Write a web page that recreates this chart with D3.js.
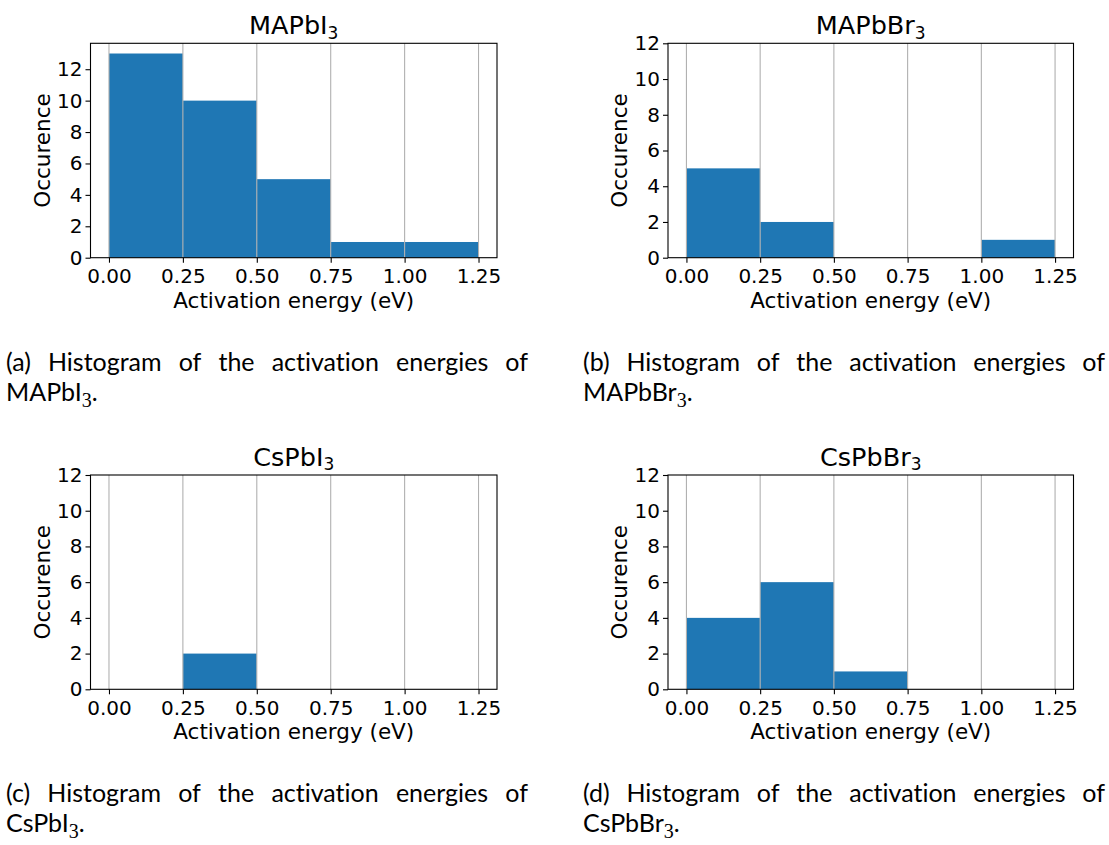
<!DOCTYPE html>
<meta charset="utf-8">
<style>
    body { margin: 0; background: #fff; }
    svg { display: block; }
    .axis path, .axis line { stroke: #000; stroke-width: 1.1px; }
    .grid line { stroke: #b0b0b0; stroke-width: 1.1px; }
    .caption { font-family: Lato, "Open Sans", sans-serif; font-size: 25px; fill: #000; font-variant-ligatures: none; }
</style>
<svg width="1109" height="845"></svg>
<script src="https://cdn.jsdelivr.net/npm/d3@7"></script>
<script>
    // histogram data, one array per compound
    const binEdges = [0, 0.25, 0.5, 0.75, 1.0, 1.25];
    const countsMAPbI3 = [13, 10, 5, 1, 1];
    const countsMAPbBr3 = [5, 2, 0, 0, 1];
    const countsCsPbI3 = [0, 2, 0, 0, 0];
    const countsCsPbBr3 = [4, 6, 1, 0, 0];

    const xTicks = [0, 0.25, 0.5, 0.75, 1.0, 1.25];
    const yTicks = [0, 2, 4, 6, 8, 10, 12];
    const xLabel = "Activation energy (eV)";
    const yLabel = "Occurence";

    const titleBase = ["MAPbI", "MAPbBr", "CsPbI", "CsPbBr"];
    const captionLetters = ["(a)", "(b)", "(c)", "(d)"];
    const captionText = "Histogram of the activation energies of";

    const svg = d3.select("svg");
    svg.append("rect").attr("width", 1109).attr("height", 845).attr("fill", "#fff");

    const panels = [
        { counts: countsMAPbI3, left: 90.5, top: 43.3, width: 406.5, height: 214.4, ymax: 13 * 1.05,
          cap: { x0: 6, x1: 528, y: 371 } },
        { counts: countsMAPbBr3, left: 668, top: 43.3, width: 405.5, height: 214.4, ymax: 12,
          cap: { x0: 583, x1: 1105, y: 371 } },
        { counts: countsCsPbI3, left: 90.5, top: 475, width: 406.5, height: 214.3, ymax: 12,
          cap: { x0: 6, x1: 528, y: 802 } },
        { counts: countsCsPbBr3, left: 668, top: 475, width: 405.5, height: 214.3, ymax: 12,
          cap: { x0: 583, x1: 1105, y: 802 } }
    ];

    const tickFont = "20px 'DejaVu Sans', sans-serif";
    const labelFont = "21.5px 'DejaVu Sans', sans-serif";

    panels.forEach(function(p, i) {
        const g = svg.append("g").attr("transform", "translate(" + p.left + "," + p.top + ")");

        const x = d3.scaleLinear().domain([-0.0625, 1.3125]).range([0, p.width]);
        const y = d3.scaleLinear().domain([0, p.ymax]).range([p.height, 0]);

        const bins = p.counts.map(function(c, k) {
            return { x0: binEdges[k], x1: binEdges[k + 1], count: c };
        }).filter(d => d.count > 0);

        g.selectAll(".bar")
            .data(bins)
            .enter().append("rect")
            .attr("class", "bar")
            .attr("x", d => x(d.x0))
            .attr("width", d => x(d.x1) - x(d.x0))
            .attr("y", d => y(d.count))
            .attr("height", d => y(0) - y(d.count))
            .attr("fill", "#1f77b4");

        // vertical grid drawn over the bars, like matplotlib
        g.append("g")
            .attr("class", "grid")
            .selectAll("line")
            .data(xTicks)
            .enter().append("line")
            .attr("x1", d => x(d)).attr("x2", d => x(d))
            .attr("y1", 0).attr("y2", p.height);

        const xAxis = g.append("g")
            .attr("class", "axis axis--x")
            .attr("transform", "translate(0," + p.height + ")")
            .call(d3.axisBottom(x).tickValues(xTicks).tickFormat(d3.format(".2f")).tickSize(5).tickPadding(5).tickSizeOuter(0));
        xAxis.select(".domain").remove();
        xAxis.selectAll("text").attr("dy", null).attr("y", 25.5)
            .style("font", tickFont).attr("fill", "#000");

        const yAxis = g.append("g")
            .attr("class", "axis axis--y")
            .call(d3.axisLeft(y).tickValues(yTicks).tickFormat(d3.format("d")).tickSize(5).tickPadding(3).tickSizeOuter(0));
        yAxis.select(".domain").remove();
        yAxis.selectAll("text").style("font", tickFont).attr("fill", "#000");

        // frame
        g.append("rect")
            .attr("width", p.width).attr("height", p.height)
            .attr("fill", "none").attr("stroke", "#000").attr("stroke-width", 1.1);

        g.append("text")
            .attr("x", p.width / 2)
            .attr("y", p.height + 50)
            .attr("text-anchor", "middle")
            .style("font", labelFont)
            .text(xLabel);

        g.append("text")
            .attr("transform", "translate(-41," + p.height / 2 + ") rotate(-90)")
            .attr("text-anchor", "middle")
            .style("font", labelFont)
            .text(yLabel);

        const title = g.append("text")
            .attr("x", p.width / 2)
            .attr("y", -9.3)
            .attr("text-anchor", "middle")
            .style("font", "25.5px 'DejaVu Sans', sans-serif");
        title.append("tspan").text(titleBase[i]);
        title.append("tspan").attr("dy", 4.5).style("font-size", "17px").text("3");

        // justified caption
        const words = [captionLetters[i]].concat(captionText.split(" "));
        const line1 = svg.append("g").attr("class", "caption");
        const nodes = words.map(w => line1.append("text").attr("y", p.cap.y).text(w));
        const widths = nodes.map(n => n.node().getComputedTextLength());
        const gap = (p.cap.x1 - p.cap.x0 - d3.sum(widths)) / (words.length - 1);
        let cx = p.cap.x0;
        nodes.forEach(function(n, k) {
            n.attr("x", cx);
            cx += widths[k] + gap;
        });

        const line2 = svg.append("text")
            .attr("class", "caption")
            .attr("x", p.cap.x0)
            .attr("y", p.cap.y + 30);
        line2.append("tspan").text(titleBase[i]);
        line2.append("tspan").attr("dy", 5.5)
            .style("font-family", "'Liberation Serif', 'DejaVu Serif', serif")
            .style("font-size", "20px").text("3");
        line2.append("tspan").attr("dy", -5.5).text(".");
    });
</script>
